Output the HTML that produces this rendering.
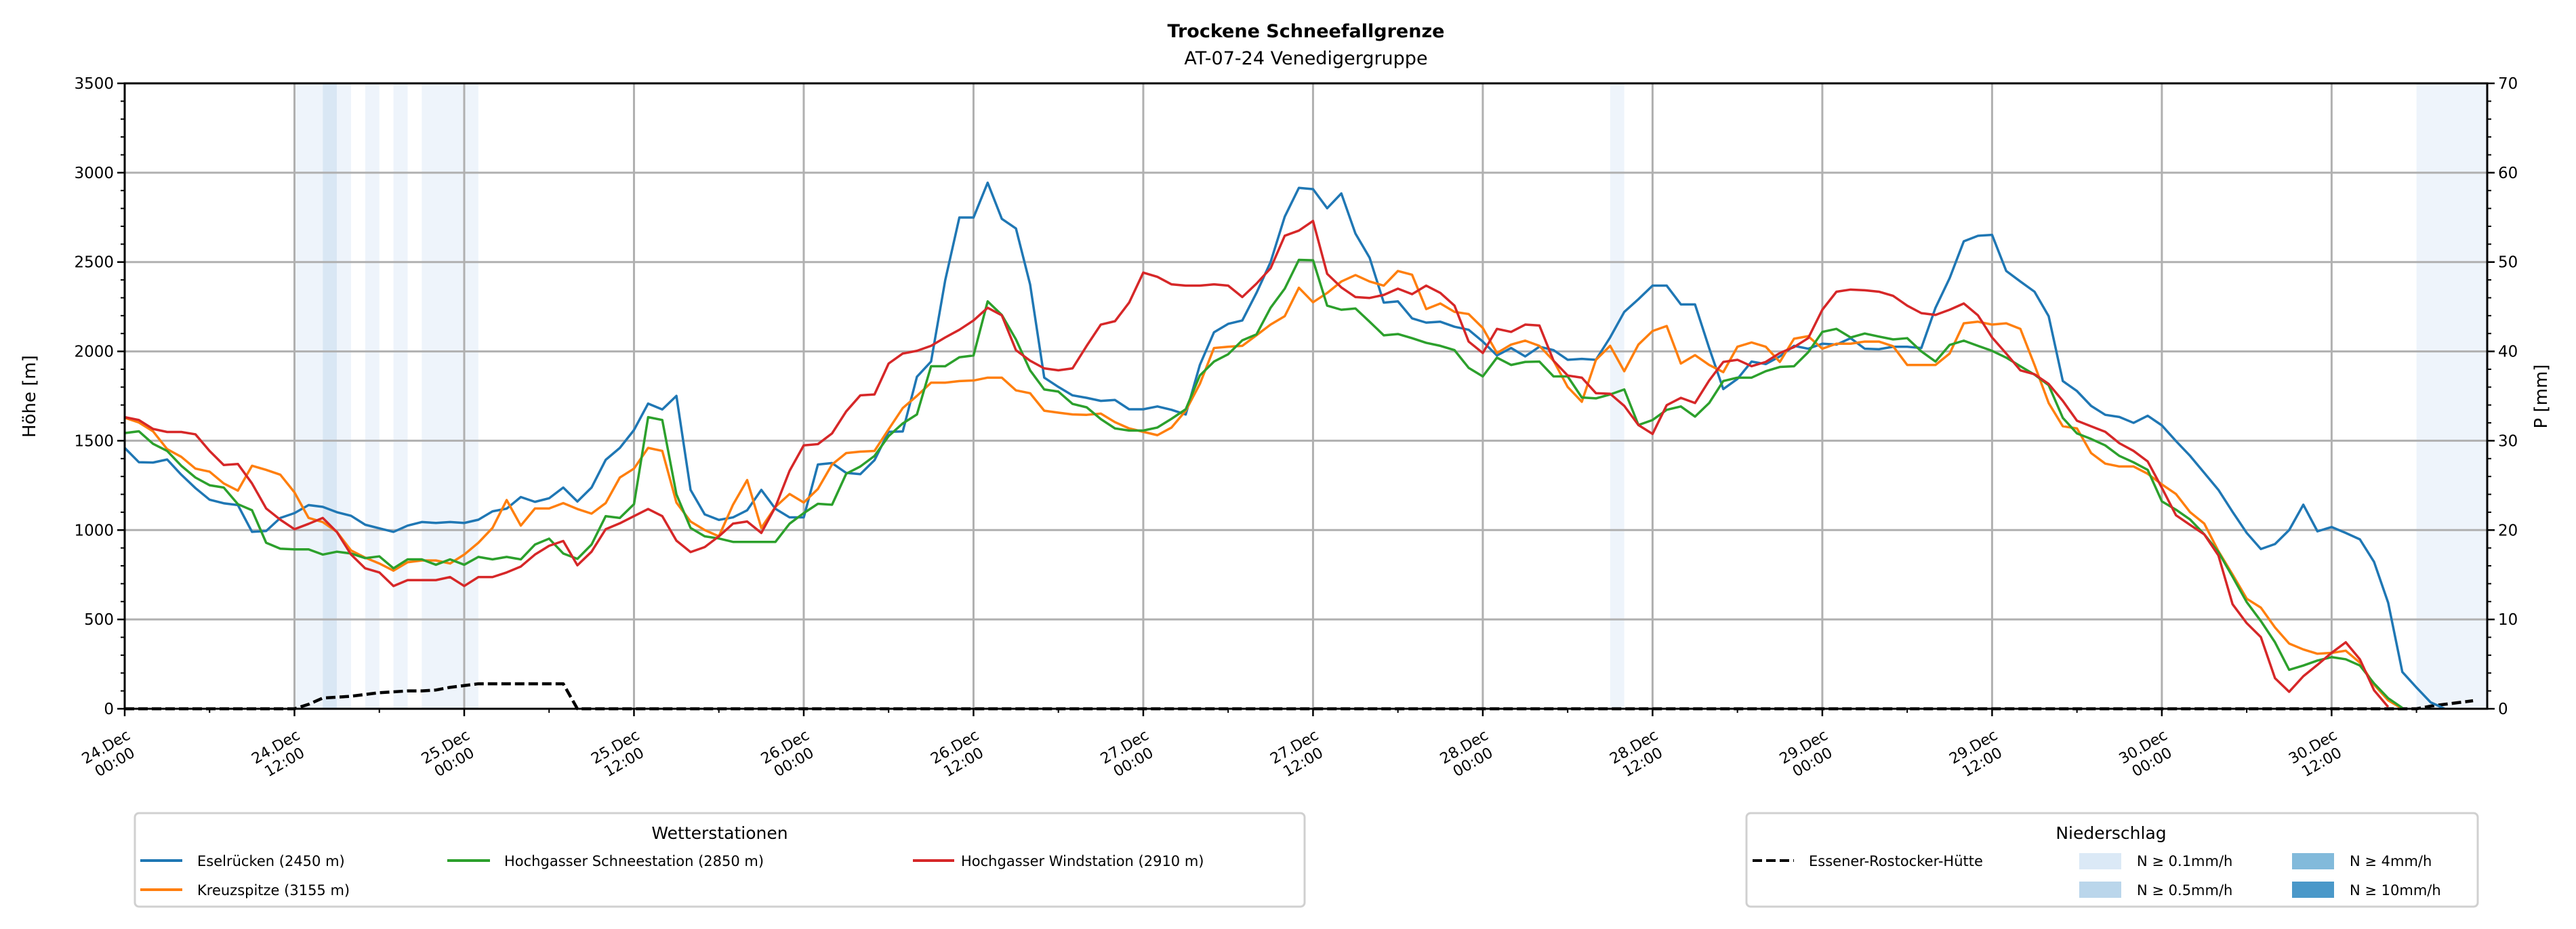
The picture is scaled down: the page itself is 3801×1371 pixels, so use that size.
<!DOCTYPE html>
<html><head><meta charset="utf-8"><style>
html,body{margin:0;padding:0;background:#fff}
svg{display:block;font-family:"DejaVu Sans","Liberation Sans",sans-serif}
</style></head><body>
<svg id="chart" width="3801" height="1371" viewBox="0 0 3801 1371" xmlns="http://www.w3.org/2000/svg">
<rect width="3801" height="1371" fill="#fff"/>
<text x="1927" y="55" font-size="27" font-weight="bold" text-anchor="middle">Trockene Schneefallgrenze</text>
<text x="1927" y="95" font-size="27" text-anchor="middle">AT-07-24 Venedigergruppe</text>
<g id="shade"></g><g id="grid"></g><g id="series"></g><g id="axes"></g>
<text transform="translate(52,585) rotate(-90)" font-size="26" text-anchor="middle">Höhe [m]</text>
<text transform="translate(3758,585) rotate(-90)" font-size="26" text-anchor="middle">P [mm]</text>
<g>
<rect x="199" y="1200" width="1726" height="138" rx="6" fill="#fff" stroke="#d0d0d0" stroke-width="3"/>
<text x="1062" y="1238" font-size="25" text-anchor="middle">Wetterstationen</text>
<g><line x1="207" y1="1270" x2="269" y2="1270" stroke="#1f77b4" stroke-width="4"/><text x="291" y="1278" font-size="21">Eselrücken (2450 m)</text></g>
<g><line x1="207" y1="1313" x2="269" y2="1313" stroke="#ff7f0e" stroke-width="4"/><text x="291" y="1321" font-size="21">Kreuzspitze (3155 m)</text></g>
<g><line x1="660" y1="1270" x2="723" y2="1270" stroke="#2ca02c" stroke-width="4"/><text x="744" y="1278" font-size="21">Hochgasser Schneestation (2850 m)</text></g>
<g><line x1="1347" y1="1270" x2="1408" y2="1270" stroke="#d62728" stroke-width="4"/><text x="1418" y="1278" font-size="21">Hochgasser Windstation (2910 m)</text></g>
</g>
<g>
<rect x="2577" y="1200" width="1079" height="138" rx="6" fill="#fff" stroke="#d0d0d0" stroke-width="3"/>
<text x="3115" y="1238" font-size="25" text-anchor="middle">Niederschlag</text>
<g><line x1="2586" y1="1270" x2="2647" y2="1270" stroke="#000" stroke-width="4" stroke-dasharray="14,6"/><text x="2669" y="1278" font-size="21">Essener-Rostocker-Hütte</text></g>
<g><rect x="3068" y="1259" width="62" height="24" fill="#dbe9f6"/><text x="3153" y="1278" font-size="21">N ≥ 0.1mm/h</text></g>
<g><rect x="3068" y="1301" width="62" height="24" fill="#bad6eb"/><text x="3153" y="1321" font-size="21">N ≥ 0.5mm/h</text></g>
<g><rect x="3382" y="1259" width="62" height="24" fill="#82badb"/><text x="3467" y="1278" font-size="21">N ≥ 4mm/h</text></g>
<g><rect x="3382" y="1301" width="62" height="24" fill="#4a98c9"/><text x="3467" y="1321" font-size="21">N ≥ 10mm/h</text></g>
</g>
</svg>
<script>
const eselruecken=[1460,1380,1378,1395,1310,1235,1170,1150,1140,990,995,1068,1095,1140,1130,1100,1080,1030,1010,990,1025,1045,1040,1045,1040,1058,1105,1120,1185,1158,1178,1238,1160,1238,1393,1460,1560,1708,1675,1751,1225,1088,1057,1071,1111,1225,1119,1071,1071,1367,1375,1320,1313,1391,1550,1552,1858,1943,2398,2749,2749,2944,2742,2688,2375,1853,1801,1754,1740,1723,1728,1676,1676,1692,1673,1647,1924,2107,2154,2173,2327,2500,2754,2915,2908,2801,2884,2659,2524,2273,2280,2185,2161,2166,2138,2121,2055,1977,2019,1972,2026,2007,1953,1958,1953,2078,2221,2292,2368,2368,2263,2263,2019,1789,1846,1943,1929,1972,2031,2015,2043,2038,2074,2015,2012,2026,2026,2019,2244,2410,2616,2647,2652,2450,2391,2334,2197,1834,1778,1695,1645,1633,1600,1640,1586,1498,1415,1320,1225,1102,984,894,922,1000,1142,993,1017,984,948,822,593,206,119,36,0];
const kreuzspitze=[1629,1602,1553,1453,1410,1344,1327,1261,1221,1360,1337,1310,1211,1068,1045,990,886,846,813,773,820,830,830,813,863,929,1012,1168,1025,1121,1121,1151,1118,1092,1151,1294,1344,1460,1443,1154,1048,1000,965,1142,1280,1012,1130,1202,1154,1230,1367,1431,1439,1443,1564,1683,1751,1825,1825,1834,1837,1853,1853,1782,1766,1668,1657,1647,1645,1652,1604,1569,1550,1531,1574,1668,1818,2019,2026,2031,2090,2150,2197,2356,2275,2327,2391,2427,2391,2368,2450,2429,2237,2268,2221,2209,2131,1991,2038,2060,2031,1948,1801,1718,1953,2031,1889,2038,2114,2142,1932,1979,1924,1884,2026,2050,2026,1941,2071,2085,2015,2043,2043,2055,2055,2029,1924,1924,1924,1988,2157,2166,2150,2157,2126,1924,1711,1581,1569,1431,1372,1356,1356,1315,1256,1202,1100,1036,882,751,616,566,455,365,332,308,313,325,258,135,47,0];
const schneestation=[1543,1553,1483,1443,1360,1294,1251,1238,1145,1111,929,896,892,892,863,879,869,843,853,786,836,836,806,836,806,850,836,850,836,919,952,869,839,919,1078,1068,1145,1632,1616,1200,1012,965,953,934,934,934,934,1036,1095,1147,1142,1315,1356,1415,1526,1597,1647,1917,1917,1967,1977,2280,2204,2067,1894,1787,1775,1706,1687,1621,1569,1557,1557,1574,1623,1676,1865,1943,1984,2062,2095,2244,2351,2512,2510,2256,2233,2240,2166,2090,2097,2074,2048,2031,2007,1908,1860,1965,1924,1941,1943,1860,1860,1742,1737,1759,1787,1588,1616,1673,1692,1635,1711,1834,1853,1853,1889,1913,1917,1995,2109,2126,2078,2100,2083,2067,2074,2000,1943,2036,2060,2031,2003,1965,1917,1870,1811,1628,1541,1510,1474,1415,1379,1337,1161,1114,1059,976,877,739,597,491,372,218,242,270,289,277,242,142,59,5];
const windstation=[1632,1616,1566,1549,1549,1536,1443,1364,1370,1261,1121,1058,1005,1035,1068,989,863,786,763,687,720,720,720,737,687,737,737,763,796,863,912,939,803,879,1005,1038,1078,1118,1078,941,877,905,965,1036,1048,984,1130,1332,1474,1481,1541,1664,1754,1759,1932,1988,2003,2031,2078,2121,2173,2244,2202,2007,1948,1905,1894,1905,2031,2150,2169,2273,2441,2417,2375,2368,2368,2375,2368,2304,2379,2465,2647,2676,2730,2434,2358,2304,2299,2316,2351,2320,2368,2327,2256,2055,1991,2126,2109,2150,2145,1948,1865,1853,1766,1763,1695,1588,1538,1699,1740,1711,1837,1941,1953,1917,1941,1991,2024,2074,2233,2334,2346,2342,2334,2311,2256,2214,2204,2233,2268,2202,2078,1988,1894,1872,1818,1723,1612,1581,1550,1486,1443,1384,1237,1083,1029,976,858,585,479,401,171,95,182,246,313,372,277,104,10];
const precipHuette=[0,0,0,0,0,0,0,0,0,0,0,0,0,0.5,1.2,1.3,1.4,1.6,1.8,1.9,2.0,2.0,2.1,2.4,2.6,2.8,2.8,2.8,2.8,2.8,2.8,2.8].concat(new Array(130).fill(0)).concat([0,0.3,0.5,0.7,0.9]);
const shadeStart=[12,14,15,17,19,21,105,162];
const shadeEnd=[14,15,16,18,20,25,106,167];
const shadeLevel=[0.1,0.5,0.1,0.1,0.1,0.1,0.1,0.1];
const yTicks=[0,500,1000,1500,2000,2500,3000,3500];
const y2Ticks=[0,10,20,30,40,50,60,70];
const xTickHours=[0,12,24,36,48,60,72,84,96,108,120,132,144,156];
const xTickDays=["24.Dec","24.Dec","25.Dec","25.Dec","26.Dec","26.Dec","27.Dec","27.Dec","28.Dec","28.Dec","29.Dec","29.Dec","30.Dec","30.Dec"];
const xTickTimes=["00:00","12:00","00:00","12:00","00:00","12:00","00:00","12:00","00:00","12:00","00:00","12:00","00:00","12:00"];

const L=184,R=3670,T=123,B=1046,XMAX=167;
const NS="http://www.w3.org/2000/svg";
const xs=h=>L+h*(R-L)/XMAX;
const ys=v=>B-v*(B-T)/3500;
const y2s=v=>B-v*(B-T)/70;
function mk(tag,attrs,parent){const e=document.createElementNS(NS,tag);for(const k in attrs)e.setAttribute(k,attrs[k]);parent.appendChild(e);return e;}
const gS=document.getElementById('shade'),gG=document.getElementById('grid'),gSe=document.getElementById('series'),gA=document.getElementById('axes');
shadeStart.forEach((s,i)=>{
  const r=mk('rect',{x:xs(s),y:T,width:xs(shadeEnd[i])-xs(s),height:B-T,fill:shadeLevel[i]>=0.5?'#d9e7f4':'#eef4fb'},gS);
  
  
});
yTicks.forEach(v=>{
  const l=mk('line',{x1:L,x2:R,y1:ys(v),y2:ys(v),stroke:'#b0b0b0','stroke-width':3},gG);
  
  
  mk('line',{x1:L-11,x2:L,y1:ys(v),y2:ys(v),stroke:'#000','stroke-width':2.5},gA);
  const t=mk('text',{x:L-16,y:ys(v)+8,'font-size':23,'text-anchor':'end'},gA);t.textContent=v;
  
  
});
for(let v=0;v<=3500;v+=100){mk('line',{x1:L-6,x2:L,y1:ys(v),y2:ys(v),stroke:'#000','stroke-width':2},gA);}
y2Ticks.forEach(v=>{
  mk('line',{x1:R,x2:R+11,y1:y2s(v),y2:y2s(v),stroke:'#000','stroke-width':2.5},gA);
  const t=mk('text',{x:R+16,y:y2s(v)+8,'font-size':23},gA);t.textContent=v;
  
  
});
for(let v=0;v<=70;v+=2){mk('line',{x1:R,x2:R+6,y1:y2s(v),y2:y2s(v),stroke:'#000','stroke-width':2},gA);}
xTickHours.forEach((h,i)=>{
  const x=xs(h);
  const l=mk('line',{x1:x,x2:x,y1:T,y2:B,stroke:'#b0b0b0','stroke-width':3},gG);
  
  
  mk('line',{x1:x,x2:x,y1:B,y2:B+11,stroke:'#000','stroke-width':2.5},gA);
  const g=mk('g',{transform:`translate(${x-22},${B+66}) rotate(-30)`,'font-size':22,'text-anchor':'middle'},gA);
  
  
  const a=mk('text',{x:0,y:-4},g);a.textContent=xTickDays[i];
  const b=mk('text',{x:0,y:22},g);b.textContent=xTickTimes[i];
});
for(let h=6;h<XMAX;h+=12){mk('line',{x1:xs(h),x2:xs(h),y1:B,y2:B+6,stroke:'#000','stroke-width':2},gA);}
function line(vals,scale,color,name,dash){
  const p=mk('polyline',{points:vals.map((v,i)=>xs(i)+','+scale(v)).join(' '),fill:'none',stroke:color,'stroke-width':dash?4.5:3.5,'stroke-linejoin':'round'},gSe);
  if(dash)p.setAttribute('stroke-dasharray','14,6');
  
  
}
line(precipHuette,y2s,'#000','precip-line-huette',true);
line(eselruecken,ys,'#1f77b4','line-eselruecken');
line(kreuzspitze,ys,'#ff7f0e','line-kreuzspitze');
line(schneestation,ys,'#2ca02c','line-schneestation');
line(windstation,ys,'#d62728','line-windstation');
const fr=mk('rect',{x:L,y:T,width:R-L,height:B-T,fill:'none',stroke:'#000','stroke-width':3},gA);


</script>
</body></html>
